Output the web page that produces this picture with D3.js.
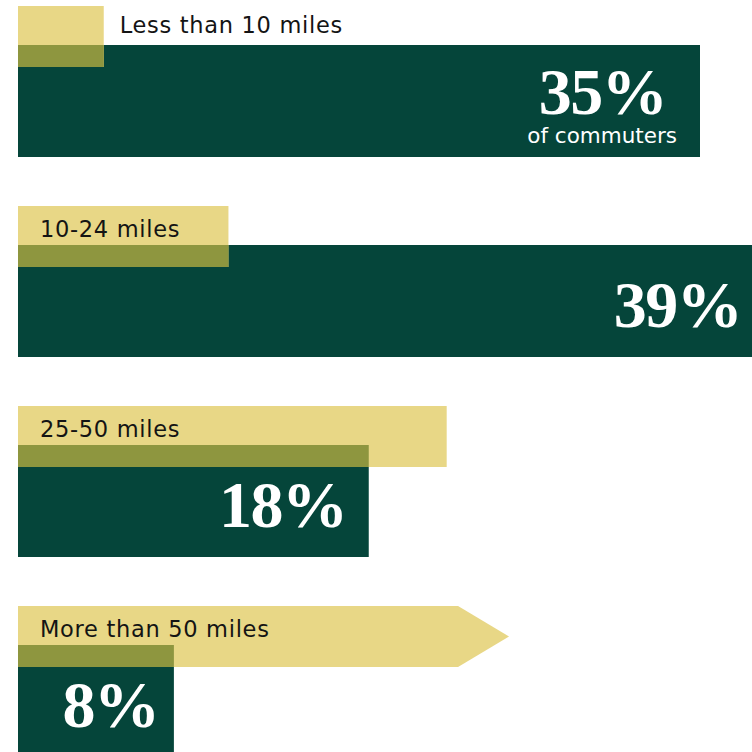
<!DOCTYPE html>
<html>
<head>
<meta charset="utf-8">
<script src="https://cdn.jsdelivr.net/npm/d3@7/dist/d3.min.js"></script>
<style>
  html, body { margin: 0; padding: 0; background: #ffffff; }
  svg { display: block; }
</style>
</head>
<body>
<div id="chart"></div>
<script>
// ---- data ----
const categories = ["Less than 10 miles", "10-24 miles", "25-50 miles", "More than 50 miles"];
const shares = [35, 39, 18, 8];              // % of commuters (dark green bars)
const tabValues = [4.4, 10.8, 22.0, 25.2];   // length of the yellow label tabs, same % units
const shareLabels = ["35%", "39%", "18%", "8%"];
const subtitle = "of commuters";

// ---- layout / style ----
const W = 752, H = 752;
const left = 18;
const tabH = 61, barOffset = 39, barH = 112, arrowLen = 51;
const GREEN = "#05453a", YELLOW = "#e8d786", OLIVE = "#8e963f", INK = "#141414";

const rows = categories.map((c, i) => ({ cat: c, share: shares[i], tab: tabValues[i], label: shareLabels[i], i }));

const svg = d3.select("#chart").append("svg").attr("width", W).attr("height", H);

const x = d3.scaleLinear().domain([0, 35]).range([0, 682]);
const y = d3.scaleBand().domain(categories).range([6, 806]).paddingInner(0).paddingOuter(0);

const g = svg.selectAll("g.row").data(rows).join("g").attr("class", "row")
  .attr("transform", d => `translate(0,${y(d.cat)})`);

// dark green bars
g.append("rect")
  .attr("x", left).attr("y", barOffset)
  .attr("width", d => x(d.share)).attr("height", barH)
  .attr("fill", GREEN);

// yellow tabs (last one drawn as an arrow)
const last = rows.length - 1;
g.each(function(d) {
  const sel = d3.select(this);
  const end = left + x(d.tab);
  if (d.i === last) {
    const pts = [[left, 0], [end - arrowLen, 0], [end, tabH / 2], [end - arrowLen, tabH], [left, tabH]];
    sel.append("path").attr("d", d3.line()(pts) + "Z").attr("fill", YELLOW);
  } else {
    sel.append("rect").attr("x", left).attr("y", 0)
      .attr("width", x(d.tab)).attr("height", tabH).attr("fill", YELLOW);
  }
});

// olive overlap
g.append("rect")
  .attr("x", left).attr("y", barOffset)
  .attr("width", d => Math.min(x(d.share), x(d.tab) - (d.i === last ? arrowLen : 0)))
  .attr("height", tabH - barOffset)
  .attr("fill", OLIVE);

// category labels
g.append("text")
  .attr("x", d => (x(d.tab) < 120 ? left + x(d.tab) + 16 : left + 22))
  .attr("y", d => (d.i === 0 ? 27 : 31))
  .attr("font-family", "'DejaVu Sans', sans-serif")
  .attr("font-size", 22.5)
  .attr("letter-spacing", 0.7)
  .attr("fill", INK)
  .text(d => d.cat);

// big percentage numbers
const numRight = d => left + x(d.share) * 0.965 - 10;
g.append("text")
  .attr("x", numRight)
  .attr("y", d => barOffset + (d.i === 0 ? 69 : 82))
  .attr("text-anchor", "end")
  .attr("font-family", "'Liberation Serif', 'Times New Roman', serif")
  .attr("font-weight", "bold")
  .attr("font-size", 66)
  .attr("letter-spacing", -1.5)
  .attr("fill", "#ffffff")
  .text(d => d.label);

// subtitle for first row
g.filter(d => d.i === 0).append("text")
  .attr("x", d => numRight(d) - 64)
  .attr("y", barOffset + 98)
  .attr("text-anchor", "middle")
  .attr("font-family", "'DejaVu Sans', sans-serif")
  .attr("font-size", 21.5)
  .attr("fill", "#ffffff")
  .text(subtitle);
</script>
</body>
</html>
